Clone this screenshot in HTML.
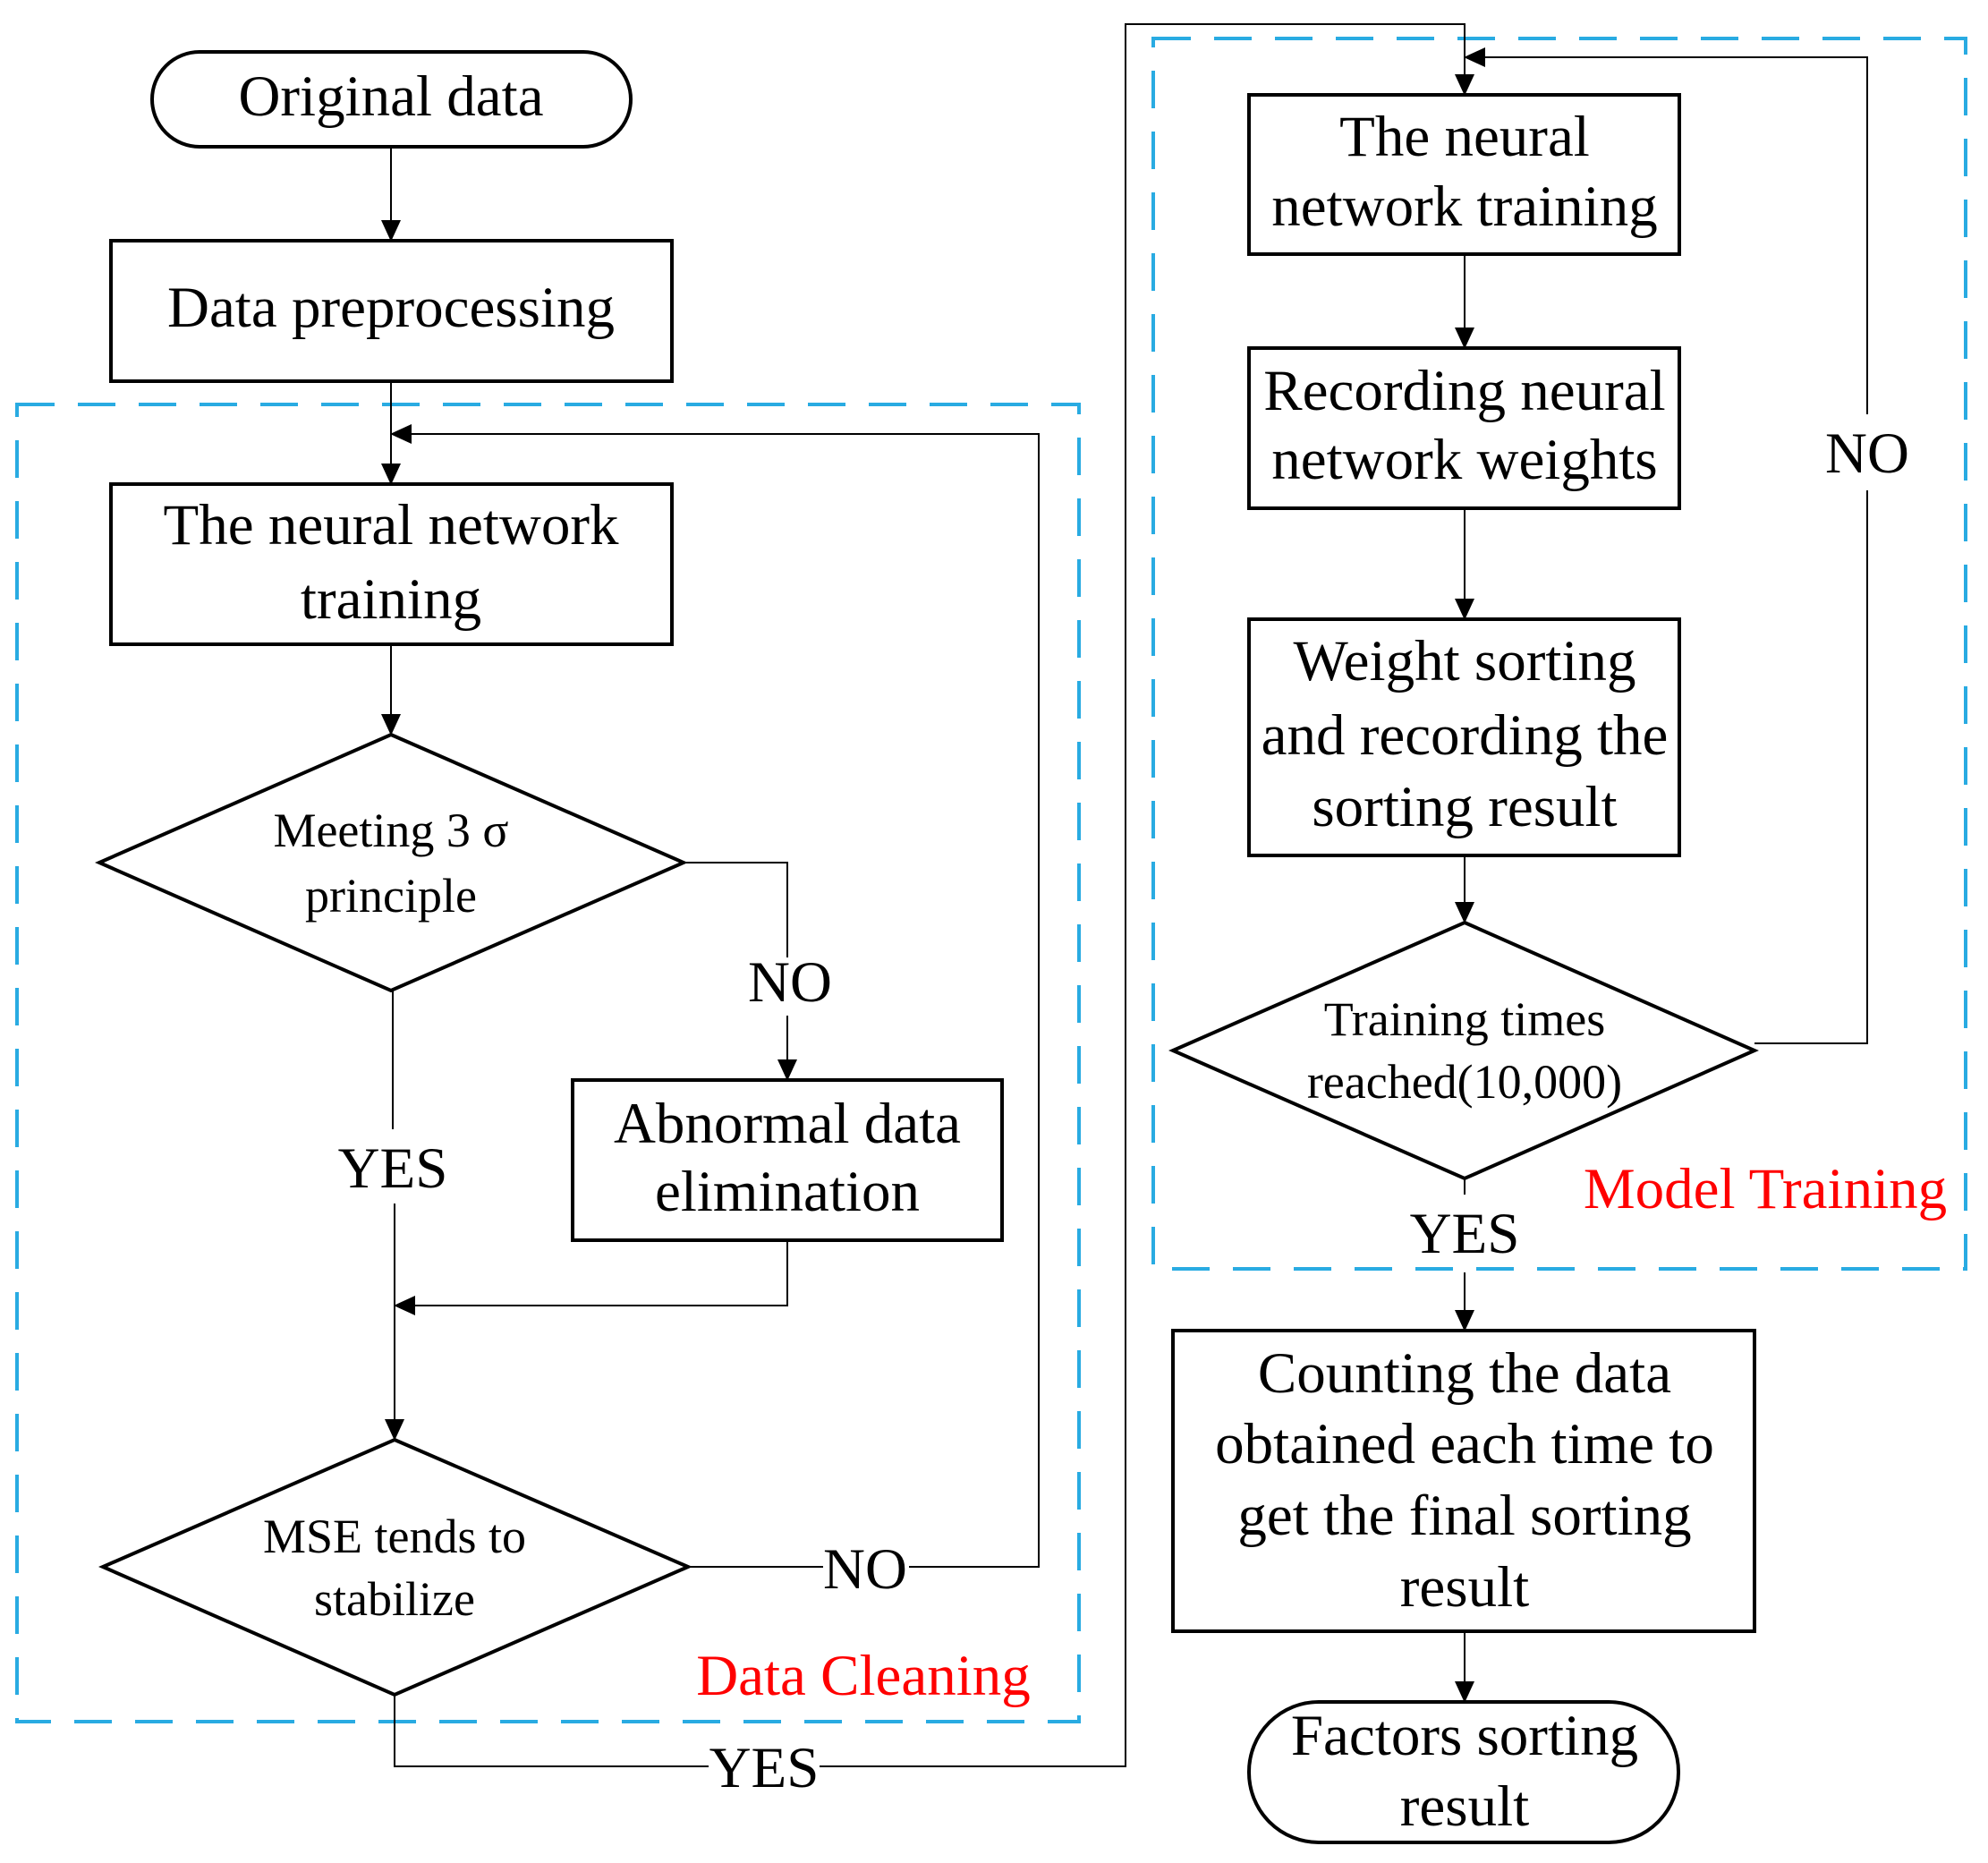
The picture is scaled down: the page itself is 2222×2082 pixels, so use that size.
<!DOCTYPE html>
<html><head><meta charset="utf-8"><style>html,body{margin:0;padding:0;background:#fff}svg{display:block}</style></head>
<body>
<svg xmlns="http://www.w3.org/2000/svg" width="2222" height="2082" viewBox="0 0 2222 2082">
<defs>
<marker id="a" markerWidth="24" markerHeight="22" refX="23" refY="11" orient="auto" markerUnits="userSpaceOnUse" viewBox="0 0 24 22">
<path d="M0,0 L24,11 L0,22 z" fill="#000"/></marker>
</defs>
<style>
text{font-family:"Liberation Serif",serif;fill:#000;text-anchor:middle}
.b{font-size:65px}.d{font-size:54px}.r{fill:#f00;font-size:65px}
.s{fill:none;stroke:#000;stroke-width:4}
.c{fill:none;stroke:#000;stroke-width:2}
.dash{fill:none;stroke:#29abe2;stroke-width:4;stroke-dasharray:42 26}
</style>
<g>
<rect class="dash" x="19" y="452" width="1187" height="1472"/>
<rect class="dash" x="1289" y="43" width="908" height="1375"/>

<rect class="s" x="170" y="58" width="535" height="106" rx="53"/>
<text class="b" x="437" y="129">Original data</text>
<rect class="s" x="124" y="269" width="627" height="157"/>
<text class="b" x="437" y="365">Data preprocessing</text>
<rect class="s" x="124" y="541" width="627" height="179"/>
<text class="b" x="437" y="608">The neural network</text>
<text class="b" x="437" y="691">training</text>
<polygon class="s" points="437,821 764,964 437,1107 111,964"/>
<text class="d" x="437" y="946">Meeting 3 σ</text>
<text class="d" x="437" y="1019">principle</text>
<rect class="s" x="640" y="1207" width="480" height="179"/>
<text class="b" x="880" y="1277">Abnormal data</text>
<text class="b" x="880" y="1353">elimination</text>
<polygon class="s" points="441,1609 769,1751 441,1894 115,1751"/>
<text class="d" x="441" y="1735">MSE tends to</text>
<text class="d" x="441" y="1805">stabilize</text>

<line class="c" x1="437" y1="164" x2="437" y2="269" marker-end="url(#a)"/>
<line class="c" x1="437" y1="426" x2="437" y2="541" marker-end="url(#a)"/>
<line class="c" x1="437" y1="720" x2="437" y2="821" marker-end="url(#a)"/>
<polyline class="c" points="764,964 880,964 880,1070"/>
<text class="b" x="883" y="1119">NO</text>
<line class="c" x1="880" y1="1135" x2="880" y2="1207" marker-end="url(#a)"/>
<line class="c" x1="439" y1="1107" x2="439" y2="1262"/>
<text class="b" x="439" y="1327">YES</text>
<line class="c" x1="441" y1="1345" x2="441" y2="1609" marker-end="url(#a)"/>
<polyline class="c" points="880,1386 880,1459 441,1459" marker-end="url(#a)"/>
<line class="c" x1="769" y1="1751" x2="920" y2="1751"/>
<text class="b" x="967" y="1775">NO</text>
<polyline class="c" points="1016,1751 1161,1751 1161,485 437,485" marker-end="url(#a)"/>
<polyline class="c" points="441,1894 441,1974 792,1974"/>
<text class="b" x="854" y="1997">YES</text>
<polyline class="c" points="916,1974 1258,1974 1258,27 1637,27 1637,106" marker-end="url(#a)"/>
<text class="r" x="965" y="1894">Data Cleaning</text>

<rect class="s" x="1396" y="106" width="481" height="178"/>
<text class="b" x="1637" y="174">The neural</text>
<text class="b" x="1637" y="252">network training</text>
<rect class="s" x="1396" y="389" width="481" height="179"/>
<text class="b" x="1637" y="458">Recording neural</text>
<text class="b" x="1637" y="535">network weights</text>
<rect class="s" x="1396" y="692" width="481" height="264"/>
<text class="b" x="1637" y="760">Weight sorting</text>
<text class="b" x="1637" y="843">and recording the</text>
<text class="b" x="1637" y="923">sorting result</text>
<polygon class="s" points="1637,1031 1961,1174 1637,1317 1311,1174"/>
<text class="d" x="1637" y="1157">Training times</text>
<text class="d" x="1637" y="1227">reached(10,000)</text>
<rect class="s" x="1311" y="1487" width="650" height="336"/>
<text class="b" x="1637" y="1556">Counting the data</text>
<text class="b" x="1637" y="1635">obtained each time to</text>
<text class="b" x="1637" y="1715">get the final sorting</text>
<text class="b" x="1637" y="1795">result</text>
<rect class="s" x="1396" y="1902" width="480" height="157" rx="78"/>
<text class="b" x="1637" y="1961">Factors sorting</text>
<text class="b" x="1637" y="2040">result</text>

<line class="c" x1="1637" y1="284" x2="1637" y2="389" marker-end="url(#a)"/>
<line class="c" x1="1637" y1="568" x2="1637" y2="692" marker-end="url(#a)"/>
<line class="c" x1="1637" y1="956" x2="1637" y2="1031" marker-end="url(#a)"/>
<polyline class="c" points="1961,1166 2087,1166 2087,548"/>
<text class="b" x="2087" y="528">NO</text>
<polyline class="c" points="2087,463 2087,64 1637,64" marker-end="url(#a)"/>
<line class="c" x1="1637" y1="1317" x2="1637" y2="1335"/>
<text class="b" x="1637" y="1400">YES</text>
<line class="c" x1="1637" y1="1422" x2="1637" y2="1487" marker-end="url(#a)"/>
<line class="c" x1="1637" y1="1823" x2="1637" y2="1902" marker-end="url(#a)"/>
<text class="r" x="1973" y="1350">Model Training</text>
</g>
</svg>
</body></html>
